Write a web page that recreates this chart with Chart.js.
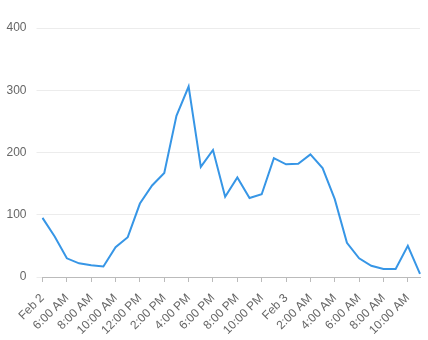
<!DOCTYPE html>
<html>
<head>
<meta charset="utf-8">
<script src="https://cdn.jsdelivr.net/npm/chart.js@4/dist/chart.umd.min.js"></script>
<style>
html,body{margin:0;padding:0;background:#fff;}
#wrap{width:428px;height:340px;position:relative;}
</style>
</head>
<body>
<div id="wrap"><canvas id="c" width="428" height="340"></canvas></div>
<script>
const hourLabels = ['Feb 2','5:00 AM','6:00 AM','7:00 AM','8:00 AM','9:00 AM','10:00 AM','11:00 AM',
  '12:00 PM','1:00 PM','2:00 PM','3:00 PM','4:00 PM','5:00 PM','6:00 PM','7:00 PM',
  '8:00 PM','9:00 PM','10:00 PM','11:00 PM','Feb 3','1:00 AM','2:00 AM','3:00 AM',
  '4:00 AM','5:00 AM','6:00 AM','7:00 AM','8:00 AM','9:00 AM','10:00 AM','11:00 AM'];
const values = [95,65,30,22,19,17,48,64,118,147,167,259,306,177,204,129,160,127,133,191,181,182,197,175,125,55,30,18,13,13,50,5];
const yTicks = [0,100,200,300,400];

const font = {family:'"Liberation Sans", Arial, sans-serif', size:12};
new Chart(document.getElementById('c'), {
  type:'line',
  data:{labels:hourLabels, datasets:[{data:values, borderColor:'#3796e6', borderWidth:2, pointRadius:0, tension:0, fill:false}]},
  options:{
    responsive:false, animation:false,
    layout:{padding:{top:28,right:8,left:0,bottom:0}},
    plugins:{legend:{display:false}, tooltip:{enabled:false}},
    scales:{
      x:{
        afterFit:(s)=>{s.height=63; s.paddingLeft=0; s.paddingRight=0;},
        grid:{drawOnChartArea:false, tickLength:5, color:(c)=> c.index%2 ? 'rgba(0,0,0,0)' : '#bbbbbb'},
        border:{color:'#bbbbbb'},
        ticks:{autoSkip:false, maxRotation:45, minRotation:45, color:'#666', font, padding:9,
          callback:function(v,i){return i%2===0 ? this.getLabelForValue(v) : '';}}
      },
      y:{
        min:0, max:400,
        afterFit:(s)=>{s.width=42.5; s.paddingTop=0; s.paddingBottom=0;},
        afterBuildTicks:(s)=>{s.ticks=yTicks.map(v=>({value:v}));},
        grid:{color:'#ececec', tickLength:6},
        border:{display:false},
        ticks:{color:'#666', font, padding:10}
      }
    }
  }
});
</script>
</body>
</html>
